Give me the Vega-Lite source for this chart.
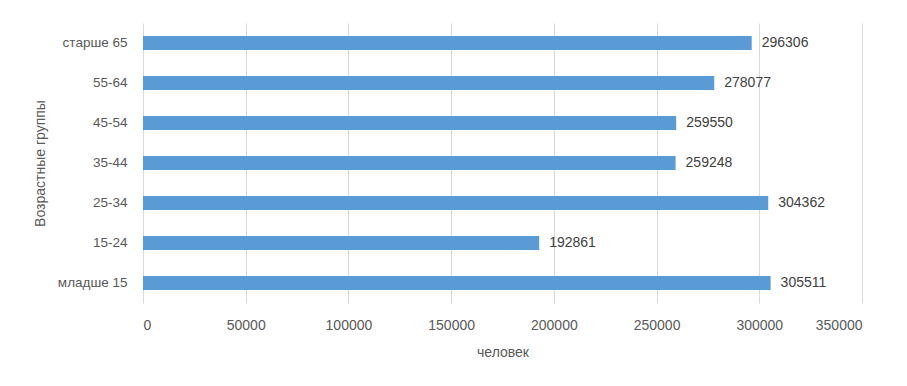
{
  "$schema": "https://vega.github.io/schema/vega-lite/v6.json",
  "autosize": {"type": "none"},
  "width": 719,
  "height": 280,
  "padding": {"left": 143, "top": 23, "right": 45, "bottom": 83},
  "background": "white",
  "config": {
    "view": {"stroke": null},
    "font": "Liberation Sans"
  },
  "data": {
    "values": [
      {"group": "старше 65", "value": 296306},
      {"group": "55-64", "value": 278077},
      {"group": "45-54", "value": 259550},
      {"group": "35-44", "value": 259248},
      {"group": "25-34", "value": 304362},
      {"group": "15-24", "value": 192861},
      {"group": "младше 15", "value": 305511}
    ]
  },
  "encoding": {
    "y": {
      "field": "group",
      "type": "nominal",
      "sort": null,
      "scale": {"paddingInner": 0.65, "paddingOuter": 0.325},
      "axis": {
        "title": "Возрастные группы",
        "domain": false,
        "ticks": false,
        "labelPadding": 16,
        "labelFontSize": 13.5,
        "labelColor": "#595959",
        "titleFontSize": 14,
        "titleFontWeight": "normal",
        "titleColor": "#595959",
        "titleAngle": -90,
        "titleX": -103,
        "titleY": 140,
        "titleAlign": "center",
        "titleBaseline": "middle"
      }
    },
    "x": {
      "field": "value",
      "type": "quantitative",
      "scale": {"domain": [0, 350000], "nice": false},
      "axis": {
        "title": "человек",
        "values": [0, 50000, 100000, 150000, 200000, 250000, 300000, 350000],
        "format": "d",
        "domain": false,
        "ticks": false,
        "grid": true,
        "gridColor": "#D9D9D9",
        "labelPadding": 15,
        "labelFontSize": 14,
        "labelColor": "#595959",
        "titleFontSize": 14,
        "titleFontWeight": "normal",
        "titleColor": "#595959",
        "titleY": 49,
        "titleBaseline": "middle"
      }
    }
  },
  "layer": [
    {"mark": {"type": "bar", "color": "#5B9BD5"}},
    {
      "mark": {"type": "text", "align": "left", "baseline": "middle", "dx": 10, "fontSize": 14, "color": "#404040"},
      "encoding": {"text": {"field": "value", "type": "quantitative", "format": "d"}}
    }
  ]
}
